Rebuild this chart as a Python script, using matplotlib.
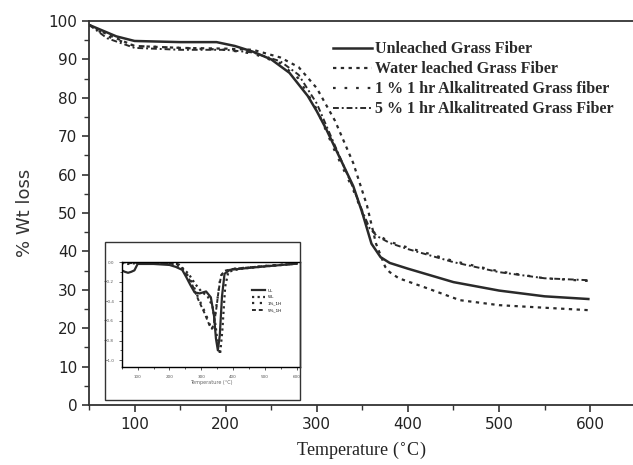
import matplotlib
matplotlib.use("Agg")
import matplotlib.pyplot as plt
from matplotlib.patches import Rectangle
from matplotlib.ticker import MultipleLocator

# ---------------- data (main TGA) ----------------
t_ul = [50, 60, 80, 100, 150, 190, 210, 230, 250, 270, 290, 300, 310, 320, 330, 340, 350,
        360, 370, 380, 400, 450, 500, 550, 598]
w_ul = [99, 98, 96, 94.8, 94.5, 94.5, 93.5, 92, 90, 86.5, 80.5, 76.5, 72, 67, 62, 57, 50,
        42, 38.5, 37, 35.5, 32, 29.8, 28.3, 27.6]

t_wl = [50, 70, 100, 150, 200, 230, 260, 280, 300, 320, 340, 355, 365, 375, 380, 390,
        420, 457, 500, 537, 598]
w_wl = [99, 96.5, 93.5, 93, 92.8, 92.5, 90.5, 88, 82.5, 74, 63, 52, 42, 36, 34.6, 33,
        30.5, 27.3, 26, 25.5, 24.7]

t_a1 = [50, 70, 100, 150, 200, 230, 260, 280, 300, 320, 330, 340, 350, 356, 365, 380,
        400, 450, 500, 550, 598]
w_a1 = [99, 96, 93.5, 93, 92.5, 91.5, 89, 85, 77, 66, 61, 56, 50, 46.5, 44.5, 42.5,
        41, 37.5, 34.8, 33, 32.3]

t_a5 = [50, 70, 100, 150, 200, 230, 260, 280, 300, 320, 330, 340, 350, 358, 366, 380,
        400, 450, 500, 550, 598]
w_a5 = [99, 95.5, 93, 92.5, 92.5, 91.8, 89.5, 86, 78.5, 67.5, 62, 56.5, 50.5, 46, 44,
        42.2, 40.6, 37.2, 34.6, 33, 32.5]

labels = ["Unleached Grass Fiber", "Water leached Grass Fiber",
          "1 % 1 hr Alkalitreated Grass fiber", "5 % 1 hr Alkalitreated Grass Fiber"]

x_ticks = [100, 200, 300, 400, 500, 600]
y_ticks = [0, 10, 20, 30, 40, 50, 60, 70, 80, 90, 100]

# ---------------- data (inset DTG) ----------------
d_t_ul = [50, 60, 70, 80, 90, 100, 150, 200, 220, 240, 253, 265, 279, 295, 315, 330, 340,
          346, 352, 358, 365, 373, 390, 450, 500, 600]
d_v_ul = [-0.085, -0.1, -0.11, -0.1, -0.085, -0.02, -0.02, -0.03, -0.05, -0.08, -0.155, -0.23,
          -0.31, -0.32, -0.30, -0.36, -0.55, -0.78, -0.9, -0.75, -0.35, -0.12, -0.08, -0.06,
          -0.045, -0.017]
d_t_wl = [50, 70, 100, 150, 200, 220, 240, 260, 280, 300, 320, 335, 345, 352, 359, 366,
          375, 385, 420, 500, 600]
d_v_wl = [-0.01, -0.02, -0.01, -0.01, -0.015, -0.03, -0.06, -0.12, -0.22, -0.3, -0.35, -0.45,
          -0.65, -0.85, -0.94, -0.7, -0.25, -0.1, -0.07, -0.045, -0.017]
d_t_a1 = [50, 70, 100, 150, 200, 230, 250, 270, 290, 310, 325, 331, 338, 345, 352, 360,
          370, 400, 500, 600]
d_v_a1 = [-0.0, -0.01, -0.01, -0.01, -0.01, -0.02, -0.1, -0.2, -0.36, -0.5, -0.62, -0.69,
          -0.66, -0.5, -0.35, -0.15, -0.1, -0.07, -0.04, -0.017]
d_t_a5 = [50, 70, 100, 150, 200, 230, 250, 270, 290, 310, 325, 333, 340, 347, 354, 362,
          372, 400, 500, 600]
d_v_a5 = [-0.0, -0.01, -0.01, -0.01, -0.012, -0.025, -0.11, -0.22, -0.38, -0.52, -0.64, -0.68,
          -0.63, -0.48, -0.3, -0.14, -0.09, -0.07, -0.04, -0.017]
inset_labels = ["UL", "WL", "1%_1H", "5%_1H"]

# ---------------- figure ----------------
fig = plt.figure(figsize=(6.33, 4.65), dpi=100)
ax = fig.add_axes([89 / 633, 1 - 405 / 465, 1 - 89 / 633, (405 - 21) / 465])

col = "#2a2a2a"
styles = [dict(ls="-", lw=1.8),
          dict(ls=(0, (1.5, 2.0)), lw=1.6),
          dict(ls=(0, (1.2, 4.0)), lw=1.6),
          dict(ls=(0, (3.0, 1.5, 1.0, 1.5)), lw=1.4)]
for (t, w), lab, st in zip([(t_ul, w_ul), (t_wl, w_wl), (t_a1, w_a1), (t_a5, w_a5)],
                           labels, styles):
    ax.plot(t, w, color=col, label=lab, **st)

ax.set_xlim(50, 647)
ax.set_ylim(0, 100)
ax.set_xticks(x_ticks)
ax.set_yticks(y_ticks)
ax.xaxis.set_minor_locator(MultipleLocator(50))
ax.yaxis.set_minor_locator(MultipleLocator(5))
ax.spines["right"].set_visible(False)
for s in ax.spines.values():
    s.set_linewidth(1.3)
    s.set_color("#333333")
ax.tick_params(which="major", direction="out", length=5, width=1.2, labelsize=11,
               colors="#333333")
ax.tick_params(which="minor", direction="out", length=3.5, width=1.0, colors="#333333")
for lbl in ax.get_xticklabels() + ax.get_yticklabels():
    lbl.set_fontfamily("DejaVu Sans")
    lbl.set_color("#222222")

ax.set_xlabel("Temperature ($^{\\circ}$C)", fontsize=13, family="Liberation Serif",
              color="#222222", labelpad=6)
ax.set_ylabel("% Wt loss", fontsize=13, family="DejaVu Sans", color="#333333", labelpad=10)

leg = ax.legend(loc="upper left", bbox_to_anchor=(0.423, 0.985), frameon=False,
                prop=dict(family="Liberation Serif", weight="bold", size=11.5),
                handlelength=2.4, handletextpad=0.2, labelspacing=0.25)
for txt in leg.get_texts():
    txt.set_color("#2a2a2a")

# ---------------- inset ----------------
fig.patches.append(Rectangle((105 / 633, 1 - 400 / 465), (300 - 105) / 633, (400 - 242) / 465,
                             transform=fig.transFigure, fill=False, ec="#333333", lw=1.0,
                             zorder=5))
ins = fig.add_axes([121.7 / 633, 1 - 367 / 465, (300 - 121.7) / 633, (367 - 262) / 465])
ins_styles = [dict(ls="-", lw=1.6),
              dict(ls=(0, (1.0, 1.5)), lw=1.6),
              dict(ls=(0, (1.0, 2.5)), lw=1.6),
              dict(ls=(0, (2.0, 1.5)), lw=1.4)]
for (t, v), lab, st in zip([(d_t_ul, d_v_ul), (d_t_wl, d_v_wl), (d_t_a1, d_v_a1),
                            (d_t_a5, d_v_a5)], inset_labels, ins_styles):
    ins.plot(t, v, color=col, label=lab, **st)
ins.set_xlim(50, 610)
ins.set_ylim(-1.07, 0.0)
ins.set_xticks([100, 200, 300, 400, 500, 600])
ins.set_yticks([0.0, -0.2, -0.4, -0.6, -0.8, -1.0])
ins.xaxis.set_minor_locator(MultipleLocator(50))
ins.yaxis.set_minor_locator(MultipleLocator(0.1))
ins.tick_params(which="both", labelsize=3, colors="#555555", length=2, width=0.7)
ins.tick_params(which="minor", length=1.2)
for s in ins.spines.values():
    s.set_linewidth(1.0)
ins.set_xlabel("Temperature (°C)", fontsize=3.5, color="#666666", labelpad=1)
il = ins.legend(loc="upper right", bbox_to_anchor=(0.92, 0.78), frameon=False, fontsize=3,
                handlelength=3, labelspacing=0.6)

fig.savefig("out.png", dpi=100)
